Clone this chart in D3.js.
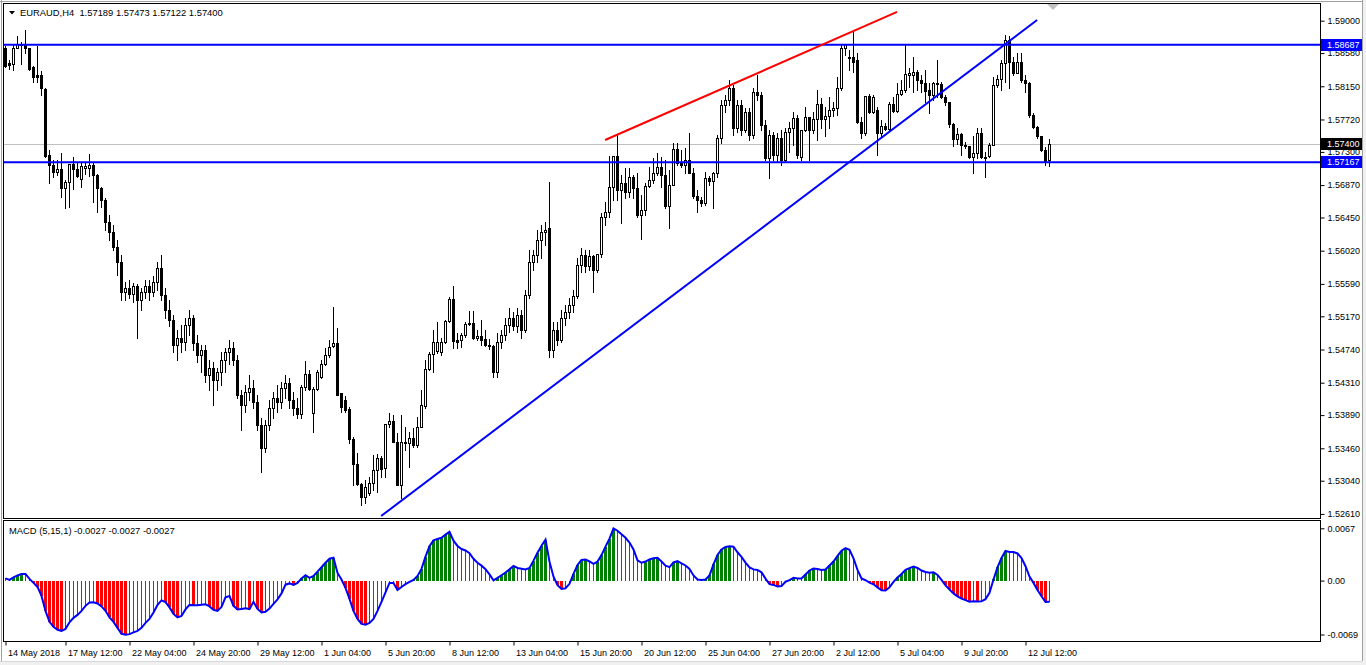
<!DOCTYPE html>
<html><head><meta charset="utf-8">
<script src="https://cdn.jsdelivr.net/npm/d3@7"></script>
<style>
body{margin:0;background:#fff;overflow:hidden}
svg text{font-family:"Liberation Sans",Arial,sans-serif;font-size:9px;fill:#000}
svg text.ttl{font-size:9.4px}
</style>
</head><body><script>
// ---------- DATA ----------
const openP=[1.5865,1.5845,1.5844,1.5865,1.5869,1.5870,1.5864,1.5840,1.5830,1.5830,
1.5812,1.5726,1.5713,1.5704,1.5708,1.5683,1.5691,1.5714,1.5708,1.5695,
1.5709,1.5709,1.5713,1.5700,1.5683,1.5668,1.5639,1.5626,1.5607,1.5588,
1.5549,1.5554,1.5546,1.5556,1.5538,1.5549,1.5556,1.5549,1.5562,1.5580,
1.5545,1.5525,1.5512,1.5480,1.5489,1.5484,1.5506,1.5515,1.5483,1.5467,
1.5473,1.5441,1.5450,1.5435,1.5445,1.5460,1.5471,1.5476,1.5460,1.5415,
1.5402,1.5419,1.5424,1.5406,1.5376,1.5347,1.5376,1.5398,1.5411,1.5406,
1.5424,1.5431,1.5409,1.5398,1.5391,1.5426,1.5442,1.5392,1.5423,1.5438,
1.5455,1.5467,1.5479,1.5483,1.5417,1.5409,1.5397,1.5358,1.5326,1.5300,
1.5283,1.5288,1.5301,1.5318,1.5334,1.5321,1.5378,1.5382,1.5354,1.5299,
1.5354,1.5353,1.5359,1.5350,1.5374,1.5401,1.5449,1.5468,1.5472,1.5471,
1.5484,1.5511,1.5540,1.5486,1.5486,1.5493,1.5507,1.5508,1.5489,1.5492,
1.5488,1.5480,1.5478,1.5445,1.5484,1.5493,1.5506,1.5515,1.5505,1.5519,
1.5499,1.5545,1.5588,1.5597,1.5616,1.5626,1.5632,1.5473,1.5499,1.5486,
1.5515,1.5523,1.5532,1.5543,1.5584,1.5597,1.5582,1.5595,1.5577,1.5598,
1.5646,1.5652,1.5685,1.5725,1.5680,1.5690,1.5678,1.5698,1.5683,1.5648,
1.5655,1.5686,1.5694,1.5703,1.5711,1.5700,1.5660,1.5687,1.5734,1.5716,
1.5713,1.5720,1.5703,1.5673,1.5668,1.5664,1.5696,1.5692,1.5703,1.5748,
1.5791,1.5797,1.5813,1.5761,1.5791,1.5759,1.5782,1.5752,1.5808,1.5804,
1.5765,1.5722,1.5752,1.5726,1.5748,1.5720,1.5756,1.5761,1.5774,1.5724,
1.5759,1.5775,1.5759,1.5773,1.5792,1.5773,1.5777,1.5784,1.5787,1.5813,
1.5864,1.5853,1.5853,1.5849,1.5769,1.5755,1.5803,1.5782,1.5784,1.5755,
1.5764,1.5760,1.5792,1.5783,1.5805,1.5810,1.5830,1.5830,1.5834,1.5823,
1.5819,1.5810,1.5804,1.5819,1.5818,1.5801,1.5794,1.5766,1.5747,1.5753,
1.5739,1.5737,1.5724,1.5729,1.5755,1.5724,1.5725,1.5739,1.5817,1.5825,
1.5845,1.5875,1.5847,1.5832,1.5847,1.5823,1.5819,1.5778,1.5762,1.5750,
1.5733,1.5719];
const highP=[1.5867,1.5849,1.5870,1.5880,1.5873,1.5888,1.5865,1.5841,1.5867,1.5835,
1.5813,1.5733,1.5720,1.5720,1.5729,1.5694,1.5714,1.5724,1.5716,1.5716,
1.5716,1.5727,1.5716,1.5701,1.5685,1.5670,1.5648,1.5635,1.5616,1.5597,
1.5562,1.5564,1.5560,1.5559,1.5554,1.5564,1.5564,1.5569,1.5588,1.5597,
1.5554,1.5538,1.5519,1.5499,1.5506,1.5515,1.5525,1.5519,1.5493,1.5480,
1.5480,1.5460,1.5458,1.5450,1.5471,1.5476,1.5486,1.5484,1.5467,1.5422,
1.5428,1.5441,1.5435,1.5415,1.5385,1.5383,1.5409,1.5419,1.5428,1.5432,
1.5441,1.5437,1.5419,1.5411,1.5428,1.5459,1.5448,1.5426,1.5448,1.5460,
1.5476,1.5486,1.5529,1.5502,1.5417,1.5414,1.5400,1.5360,1.5340,1.5301,
1.5305,1.5309,1.5337,1.5339,1.5336,1.5378,1.5392,1.5389,1.5366,1.5389,
1.5374,1.5367,1.5372,1.5387,1.5422,1.5460,1.5471,1.5499,1.5510,1.5489,
1.5512,1.5542,1.5556,1.5495,1.5495,1.5510,1.5524,1.5524,1.5499,1.5512,
1.5499,1.5488,1.5480,1.5496,1.5499,1.5515,1.5528,1.5523,1.5528,1.5525,
1.5551,1.5603,1.5603,1.5629,1.5635,1.5639,1.5691,1.5510,1.5510,1.5525,
1.5532,1.5541,1.5551,1.5593,1.5606,1.5603,1.5603,1.5597,1.5598,1.5651,
1.5665,1.5725,1.5725,1.5752,1.5700,1.5709,1.5709,1.5700,1.5703,1.5674,
1.5690,1.5711,1.5722,1.5729,1.5724,1.5720,1.5707,1.5742,1.5742,1.5733,
1.5735,1.5755,1.5709,1.5681,1.5672,1.5704,1.5699,1.5704,1.5752,1.5797,
1.5804,1.5823,1.5817,1.5797,1.5797,1.5787,1.5787,1.5813,1.5830,1.5808,
1.5771,1.5759,1.5756,1.5755,1.5759,1.5761,1.5769,1.5782,1.5778,1.5759,
1.5788,1.5775,1.5782,1.5810,1.5800,1.5788,1.5801,1.5794,1.5827,1.5869,
1.5870,1.5862,1.5888,1.5858,1.5775,1.5803,1.5805,1.5804,1.5788,1.5771,
1.5768,1.5794,1.5801,1.5819,1.5823,1.5870,1.5839,1.5853,1.5836,1.5830,
1.5836,1.5819,1.5821,1.5849,1.5821,1.5804,1.5795,1.5768,1.5761,1.5755,
1.5743,1.5738,1.5750,1.5761,1.5761,1.5730,1.5742,1.5827,1.5830,1.5849,
1.5882,1.5880,1.5853,1.5858,1.5858,1.5830,1.5821,1.5781,1.5764,1.5751,
1.5736,1.5747];
const lowP=[1.5840,1.5838,1.5836,1.5864,1.5844,1.5858,1.5836,1.5821,1.5821,1.5804,
1.5724,1.5690,1.5698,1.5700,1.5672,1.5657,1.5659,1.5682,1.5698,1.5685,
1.5701,1.5699,1.5665,1.5652,1.5659,1.5629,1.5616,1.5603,1.5571,1.5538,
1.5538,1.5541,1.5536,1.5489,1.5525,1.5541,1.5538,1.5543,1.5551,1.5538,
1.5515,1.5505,1.5471,1.5460,1.5471,1.5473,1.5493,1.5473,1.5458,1.5445,
1.5432,1.5422,1.5402,1.5422,1.5428,1.5445,1.5455,1.5454,1.5411,1.5370,
1.5393,1.5409,1.5398,1.5370,1.5315,1.5341,1.5370,1.5385,1.5393,1.5398,
1.5411,1.5398,1.5389,1.5385,1.5385,1.5422,1.5422,1.5367,1.5422,1.5437,
1.5454,1.5464,1.5477,1.5415,1.5393,1.5393,1.5353,1.5299,1.5299,1.5273,
1.5275,1.5286,1.5292,1.5290,1.5309,1.5309,1.5374,1.5354,1.5299,1.5282,
1.5344,1.5322,1.5348,1.5348,1.5374,1.5398,1.5448,1.5445,1.5470,1.5467,
1.5483,1.5510,1.5476,1.5476,1.5477,1.5490,1.5506,1.5488,1.5486,1.5480,
1.5479,1.5475,1.5439,1.5439,1.5476,1.5486,1.5497,1.5499,1.5497,1.5489,
1.5497,1.5541,1.5577,1.5588,1.5593,1.5609,1.5464,1.5464,1.5480,1.5484,
1.5506,1.5515,1.5523,1.5541,1.5575,1.5575,1.5577,1.5549,1.5575,1.5594,
1.5635,1.5646,1.5668,1.5668,1.5638,1.5670,1.5672,1.5670,1.5646,1.5617,
1.5648,1.5685,1.5690,1.5700,1.5685,1.5657,1.5632,1.5687,1.5713,1.5711,
1.5703,1.5703,1.5670,1.5652,1.5660,1.5661,1.5687,1.5657,1.5698,1.5742,
1.5782,1.5791,1.5752,1.5756,1.5752,1.5756,1.5746,1.5748,1.5797,1.5759,
1.5720,1.5696,1.5720,1.5717,1.5713,1.5717,1.5730,1.5739,1.5722,1.5720,
1.5757,1.5720,1.5755,1.5746,1.5761,1.5750,1.5761,1.5777,1.5778,1.5810,
1.5856,1.5836,1.5834,1.5768,1.5748,1.5752,1.5781,1.5781,1.5726,1.5751,
1.5759,1.5759,1.5782,1.5782,1.5804,1.5808,1.5814,1.5808,1.5810,1.5808,
1.5795,1.5781,1.5797,1.5801,1.5800,1.5791,1.5762,1.5738,1.5740,1.5726,
1.5735,1.5722,1.5703,1.5722,1.5722,1.5698,1.5724,1.5739,1.5814,1.5810,
1.5821,1.5813,1.5830,1.5832,1.5821,1.5808,1.5775,1.5761,1.5748,1.5731,
1.5713,1.5712];
const closeP=[1.5841,1.5843,1.5865,1.5870,1.5870,1.5864,1.5838,1.5827,1.5827,1.5813,
1.5725,1.5713,1.5704,1.5708,1.5683,1.5691,1.5714,1.5708,1.5699,1.5712,
1.5712,1.5713,1.5700,1.5683,1.5668,1.5639,1.5626,1.5607,1.5588,1.5549,
1.5554,1.5546,1.5556,1.5538,1.5549,1.5556,1.5549,1.5562,1.5580,1.5545,
1.5525,1.5512,1.5480,1.5489,1.5484,1.5506,1.5515,1.5483,1.5467,1.5473,
1.5441,1.5450,1.5435,1.5445,1.5460,1.5471,1.5476,1.5460,1.5415,1.5402,
1.5419,1.5424,1.5406,1.5376,1.5347,1.5376,1.5398,1.5411,1.5406,1.5424,
1.5431,1.5409,1.5398,1.5391,1.5426,1.5442,1.5423,1.5423,1.5445,1.5455,
1.5467,1.5477,1.5483,1.5415,1.5400,1.5396,1.5358,1.5326,1.5300,1.5283,
1.5296,1.5301,1.5318,1.5334,1.5319,1.5378,1.5382,1.5354,1.5299,1.5354,
1.5353,1.5359,1.5350,1.5374,1.5402,1.5449,1.5468,1.5484,1.5484,1.5484,
1.5511,1.5540,1.5485,1.5484,1.5493,1.5507,1.5508,1.5489,1.5492,1.5486,
1.5480,1.5478,1.5445,1.5484,1.5493,1.5506,1.5515,1.5505,1.5519,1.5499,
1.5545,1.5588,1.5597,1.5616,1.5626,1.5629,1.5473,1.5499,1.5486,1.5515,
1.5523,1.5532,1.5543,1.5584,1.5597,1.5582,1.5595,1.5577,1.5598,1.5646,
1.5652,1.5685,1.5725,1.5680,1.5690,1.5678,1.5698,1.5683,1.5648,1.5655,
1.5686,1.5694,1.5703,1.5711,1.5700,1.5660,1.5687,1.5734,1.5716,1.5713,
1.5720,1.5703,1.5673,1.5668,1.5664,1.5696,1.5692,1.5703,1.5748,1.5791,
1.5797,1.5813,1.5761,1.5791,1.5759,1.5782,1.5752,1.5808,1.5804,1.5765,
1.5722,1.5752,1.5726,1.5748,1.5720,1.5756,1.5761,1.5774,1.5726,1.5759,
1.5775,1.5759,1.5773,1.5792,1.5773,1.5777,1.5784,1.5787,1.5813,1.5864,
1.5870,1.5851,1.5847,1.5769,1.5755,1.5803,1.5782,1.5801,1.5755,1.5764,
1.5760,1.5792,1.5783,1.5805,1.5810,1.5831,1.5832,1.5834,1.5823,1.5819,
1.5809,1.5804,1.5819,1.5818,1.5801,1.5794,1.5766,1.5747,1.5753,1.5739,
1.5737,1.5724,1.5729,1.5755,1.5724,1.5722,1.5739,1.5817,1.5825,1.5845,
1.5875,1.5847,1.5832,1.5847,1.5823,1.5819,1.5778,1.5762,1.5750,1.5733,
1.5717,1.5740];
const macdVals=[0.00028,0.00009,0.00041,0.00066,0.00086,0.00086,0.00022,-0.00029,-0.00081,-0.00196,
-0.00387,-0.00528,-0.00592,-0.00630,-0.00643,-0.00618,-0.00534,-0.00477,-0.00439,-0.00387,
-0.00323,-0.00279,-0.00276,-0.00292,-0.00330,-0.00387,-0.00471,-0.00528,-0.00605,-0.00681,
-0.00694,-0.00685,-0.00662,-0.00643,-0.00605,-0.00541,-0.00490,-0.00407,-0.00311,-0.00253,
-0.00276,-0.00343,-0.00426,-0.00471,-0.00451,-0.00368,-0.00311,-0.00315,-0.00315,-0.00308,
-0.00304,-0.00330,-0.00375,-0.00387,-0.00336,-0.00215,-0.00198,-0.00323,-0.00370,-0.00362,
-0.00354,-0.00364,-0.00272,-0.00362,-0.00408,-0.00400,-0.00358,-0.00298,-0.00240,-0.00164,
-0.00052,-0.00036,-0.00055,-0.00029,0.00028,0.00069,0.00035,0.00060,0.00116,0.00171,
0.00229,0.00280,0.00294,0.00098,0.00015,-0.00093,-0.00234,-0.00387,-0.00490,-0.00554,
-0.00566,-0.00541,-0.00490,-0.00387,-0.00272,-0.00151,-0.00029,-0.00029,-0.00119,-0.00081,
-0.00046,-0.00017,0.00009,0.00060,0.00150,0.00307,0.00440,0.00515,0.00534,0.00549,
0.00589,0.00625,0.00511,0.00444,0.00405,0.00386,0.00352,0.00280,0.00229,0.00192,
0.00147,0.00079,0.00003,0.00035,0.00069,0.00104,0.00144,0.00188,0.00162,0.00152,
0.00143,0.00162,0.00256,0.00358,0.00446,0.00524,0.00243,0.00051,-0.00059,-0.00106,
-0.00098,-0.00041,0.00086,0.00201,0.00265,0.00271,0.00245,0.00214,0.00243,0.00327,
0.00435,0.00537,0.00667,0.00639,0.00593,0.00549,0.00488,0.00398,0.00260,0.00229,
0.00244,0.00271,0.00288,0.00293,0.00244,0.00191,0.00173,0.00233,0.00249,0.00222,
0.00194,0.00150,0.00066,0.00015,0.00009,0.00015,0.00066,0.00207,0.00329,0.00400,
0.00432,0.00439,0.00435,0.00363,0.00303,0.00231,0.00170,0.00144,0.00137,0.00106,
0.00026,-0.00046,-0.00055,-0.00074,-0.00070,-0.00014,0.00006,0.00036,0.00028,0.00028,
0.00079,0.00130,0.00155,0.00150,0.00137,0.00143,0.00194,0.00245,0.00316,0.00382,
0.00416,0.00395,0.00285,0.00137,0.00027,0.00005,-0.00026,-0.00047,-0.00087,-0.00123,
-0.00127,-0.00086,-0.00017,0.00041,0.00086,0.00139,0.00160,0.00180,0.00162,0.00129,
0.00110,0.00100,0.00107,0.00073,0.00009,-0.00061,-0.00113,-0.00164,-0.00202,-0.00229,
-0.00249,-0.00270,-0.00263,-0.00266,-0.00265,-0.00237,-0.00155,0.00015,0.00169,0.00289,
0.00380,0.00368,0.00367,0.00348,0.00290,0.00184,0.00051,-0.00029,-0.00119,-0.00201,
-0.00272,-0.00270];
const timeLabels=["14 May 2018","17 May 12:00","22 May 04:00","24 May 20:00","29 May 12:00","1 Jun 04:00","5 Jun 20:00","8 Jun 12:00","13 Jun 04:00","15 Jun 20:00","20 Jun 12:00","25 Jun 04:00","27 Jun 20:00","2 Jul 12:00","5 Jul 04:00","9 Jul 20:00","12 Jul 12:00"];
const timeTickBars=[0,15,31,47,63,79,95,111,127,143,159,175,191,207,223,239,255];
const priceTicks=[1.59000,1.58580,1.58150,1.57720,1.57300,1.56870,1.56450,1.56020,1.55590,1.55170,1.54740,1.54310,1.53890,1.53460,1.53040,1.52610];
const macdTicks=[0.0067,0,-0.0069];
const macdTickLabels=["0.0067","0.00","-0.0069"];
const levelLines=[1.58687,1.57167];
const bidPrice=1.57400;
const redTrend=[{bar:149.9,price:1.57454},{bar:222.9,price:1.59113}];
const blueTrend=[{bar:93.9,price:1.52582},{bar:257.9,price:1.59009}];
const titleText="EURAUD,H4\u00a0\u00a01.57189 1.57473 1.57122 1.57400";
const macdTitle="MACD (5,15,1) -0.0027 -0.0027 -0.0027";

// ---------- DRAW ----------
const W=1366,H=665;
const N=closeP.length;
const svg=d3.select("body").append("svg").attr("width",W).attr("height",H);
svg.append("rect").attr("width",W).attr("height",H).attr("fill","#fff");
// window chrome
svg.append("rect").attr("x",1362).attr("y",0).attr("width",4).attr("height",H).attr("fill","#f0f0f0");
svg.append("rect").attr("x",0).attr("y",661).attr("width",W).attr("height",4).attr("fill","#f0f0f0");
svg.append("line").attr("x1",1362.5).attr("x2",1362.5).attr("y1",0).attr("y2",661).attr("stroke","#a0a0a0");
svg.append("line").attr("x1",0).attr("x2",1362).attr("y1",661.5).attr("y2",661.5).attr("stroke","#d8d8d8");
svg.append("line").attr("x1",1.5).attr("x2",1.5).attr("y1",0).attr("y2",661).attr("stroke","#a0a0a0");
svg.append("line").attr("x1",0).attr("x2",1362).attr("y1",1.5).attr("y2",1.5).attr("stroke","#a0a0a0");

const x=d3.scaleLinear().domain([0,N-1]).range([5.5,5.5+4*(N-1)]);
const y=d3.scaleLinear().domain([1.52557,1.59216]).range([518,4]);
const ym=d3.scaleLinear().domain([-0.0069,0.0067]).range([634.5,528.3]);

svg.append("clipPath").attr("id","cm").append("rect").attr("x",4).attr("y",4).attr("width",1316).attr("height",514);
svg.append("clipPath").attr("id","cd").append("rect").attr("x",4).attr("y",521).attr("width",1316).attr("height",120);

const main=svg.append("g").attr("clip-path","url(#cm)");
main.append("line").attr("x1",4).attr("x2",1320).attr("y1",Math.round(y(bidPrice))+0.5).attr("y2",Math.round(y(bidPrice))+0.5).attr("stroke","#c0c0c0");

const R=v=>Math.round(v);
const cg=main.append("g").attr("shape-rendering","crispEdges");
d3.range(N).forEach(i=>{
  const xc=x(i);
  const o=openP[i],c=closeP[i];
  const hi=Math.max(highP[i],o,c), lo=Math.min(lowP[i],o,c);
  const yH=R(y(hi)), yL=R(y(lo));
  cg.append("line").attr("x1",xc).attr("x2",xc).attr("y1",yH).attr("y2",yL+1).attr("stroke","#000");
  const yO=R(y(o)), yC=R(y(c));
  const top=Math.min(yO,yC), bot=Math.max(yO,yC);
  if(c<o){
    cg.append("rect").attr("x",xc-1.5).attr("y",top).attr("width",3).attr("height",Math.max(1,bot-top+1)).attr("fill","#000");
  } else if(bot-top<1){
    cg.append("rect").attr("x",xc-1.5).attr("y",top).attr("width",3).attr("height",1).attr("fill","#000");
  } else {
    cg.append("rect").attr("x",xc-1).attr("y",top+0.5).attr("width",2).attr("height",bot-top).attr("fill","#fff").attr("stroke","#000");
  }
});

levelLines.forEach(p=>{
  main.append("line").attr("x1",4).attr("x2",1320).attr("y1",y(p)).attr("y2",y(p)).attr("stroke","#0000ff").attr("stroke-width",2);
});
const tl=d3.line().x(d=>x(d.bar)).y(d=>y(d.price));
main.append("path").attr("d",tl(redTrend)).attr("stroke","#ff0000").attr("stroke-width",2).attr("fill","none");
main.append("path").attr("d",tl(blueTrend)).attr("stroke","#0000ff").attr("stroke-width",2).attr("fill","none");

// MACD panel
const md=svg.append("g").attr("clip-path","url(#cd)");
const hg=md.append("g").attr("shape-rendering","crispEdges");
const y0=R(ym(0));
d3.range(N).forEach(i=>{
  const v=macdVals[i], prev=i>0?macdVals[i-1]:v;
  const pos=v>=0;
  const col=pos?"#008000":"#ff0000";
  const thick=pos?(v>prev):(v<prev);
  const yv=R(ym(v));
  const t=Math.min(yv,y0), b=Math.max(yv,y0);
  if(thick){
    hg.append("rect").attr("x",x(i)-1.5).attr("y",t).attr("width",3).attr("height",Math.max(1,b-t)).attr("fill",col);
  } else {
    hg.append("rect").attr("x",x(i)-0.5).attr("y",t).attr("width",1).attr("height",Math.max(1,b-t)).attr("fill",col);
  }
});
md.append("path").attr("d",d3.line().x((d,i)=>x(i)).y(d=>ym(d))(macdVals)).attr("stroke","#0000ff").attr("stroke-width",2).attr("fill","none");

// panel frames
svg.append("rect").attr("x",3.5).attr("y",3.5).attr("width",1317).attr("height",515).attr("fill","none").attr("stroke","#000").attr("shape-rendering","crispEdges");
svg.append("rect").attr("x",3.5).attr("y",520.5).attr("width",1317).attr("height",121).attr("fill","none").attr("stroke","#000").attr("shape-rendering","crispEdges");

// price axis
const gY=svg.append("g").attr("transform","translate(1320.5,0)")
  .call(d3.axisRight(y).tickValues(priceTicks).tickSize(4).tickPadding(3).tickFormat(d3.format(".5f")));
gY.select(".domain").remove();
gY.attr("font-family",null).attr("font-size",null);
gY.selectAll("line").attr("stroke","#000");

const gM=svg.append("g").attr("transform","translate(1320.5,0)")
  .call(d3.axisRight(ym).tickValues(macdTicks).tickSize(4).tickPadding(3).tickFormat((d,i)=>macdTickLabels[i]));
gM.select(".domain").remove();
gM.attr("font-family",null).attr("font-size",null);
gM.selectAll("line").attr("stroke","#000");

const gX=svg.append("g").attr("transform","translate(0,641.5)")
  .call(d3.axisBottom(x).tickValues(timeTickBars).tickSize(4).tickPadding(4).tickFormat((d,i)=>timeLabels[i]));
gX.select(".domain").remove();
gX.attr("font-family",null).attr("font-size",null);
gX.selectAll("line").attr("stroke","#000");
gX.selectAll("text").attr("text-anchor","start").attr("dx",2);

function tag(p,bg){
  const yy=y(p);
  svg.append("rect").attr("x",1321).attr("y",R(yy)-6).attr("width",41).attr("height",12).attr("fill",bg);
  svg.append("text").attr("x",1327).attr("y",yy).attr("dy","0.35em").style("fill","#fff").text(d3.format(".5f")(p));
}
levelLines.forEach(p=>tag(p,"#0000ff"));
tag(bidPrice,"#000");

svg.append("path").attr("d","M9,11 L15,11 L12,14.5 Z").attr("fill","#000");
svg.append("text").attr("class","ttl").attr("x",20).attr("y",16).text(titleText);
svg.append("text").attr("class","ttl").attr("x",9).attr("y",533.5).text(macdTitle);
svg.append("path").attr("d","M1047,4 L1059,4 L1053,10 Z").attr("fill","#c0c0c0");
</script></body></html>
